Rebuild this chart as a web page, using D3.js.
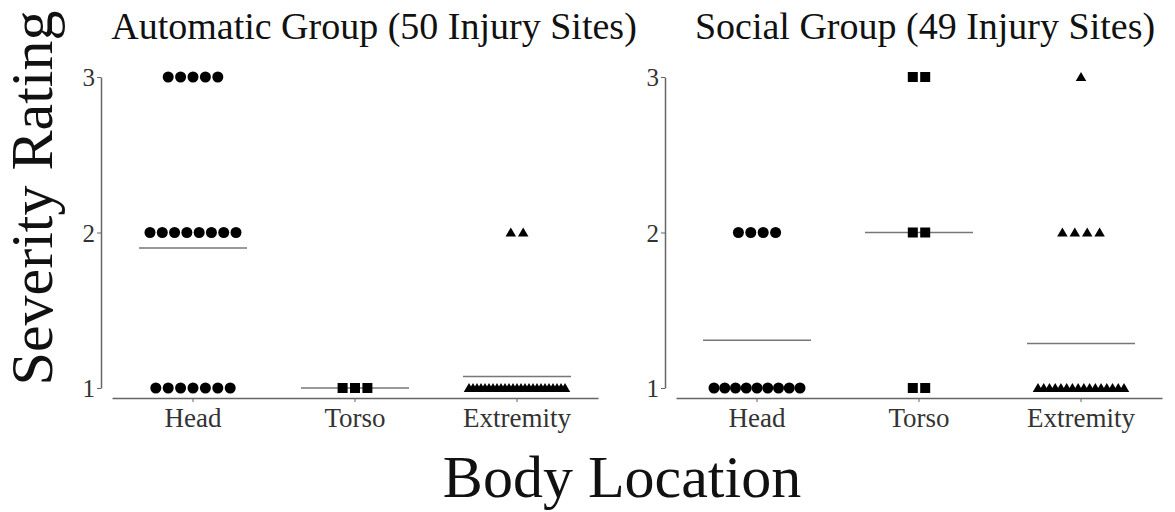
<!DOCTYPE html>
<html>
<head>
<meta charset="utf-8">
<script src="https://cdn.jsdelivr.net/npm/d3@7"></script>
<style>
  body { margin: 0; background: #fff; }
  svg text { font-family: "Liberation Serif", "DejaVu Serif", serif; }
</style>
</head>
<body>
<div id="chart"></div>
<script>
const categories = ["Head", "Torso", "Extremity"];
const ratingTicks = [1, 2, 3];

// number of injury sites at severity 1, 2, 3
const autoHead = [7, 8, 5];
const autoTorso = [3, 0, 0];
const autoExtremity = [25, 2, 0];
const socialHead = [9, 4, 0];
const socialTorso = [2, 2, 2];
const socialExtremity = [16, 4, 1];

const groups = [
    { title: "Automatic Group (50 Injury Sites)", counts: [autoHead, autoTorso, autoExtremity], left: 101, titleX: 374 },
    { title: "Social Group (49 Injury Sites)", counts: [socialHead, socialTorso, socialExtremity], left: 665, titleX: 925 }
];

const shapes = [d3.symbolCircle, d3.symbolSquare, d3.symbolTriangle];
const shapeSize = [95, 100, 48];

const width = 1175, height = 512;
const svg = d3.select("#chart").append("svg")
    .attr("width", width)
    .attr("height", height);

const y = d3.scaleLinear().domain([1, 3]).range([388, 77]);

groups.forEach((g) => {
    const x = d3.scaleBand()
        .domain(categories)
        .range([g.left + 11, g.left + 497])
        .padding(0);

    const panel = svg.append("g");

    // y axis
    const yAxis = panel.append("g")
        .attr("transform", `translate(${g.left},0)`)
        .call(d3.axisLeft(y).tickValues(ratingTicks).tickFormat(d3.format("d")).tickSize(4).tickSizeOuter(0));
    yAxis.select(".domain").attr("stroke", "#666").attr("stroke-width", 1.5);
    yAxis.selectAll(".tick line").attr("stroke", "#666");
    yAxis.selectAll(".tick text")
        .attr("font-size", 25)
        .attr("fill", "#333")
        .attr("x", -6)
        .attr("dy", "0.35em");

    // x axis
    const xAxis = panel.append("g")
        .attr("transform", `translate(0,398)`)
        .call(d3.axisBottom(x).tickSize(4).tickSizeOuter(0));
    xAxis.select(".domain").attr("stroke", "#666").attr("stroke-width", 1.5);
    xAxis.selectAll(".tick line").attr("stroke", "#666");
    xAxis.selectAll(".tick text")
        .attr("font-size", 27)
        .attr("fill", "#333")
        .attr("y", 10);

    // title
    panel.append("text")
        .attr("x", g.titleX)
        .attr("y", 39)
        .attr("text-anchor", "middle")
        .attr("font-size", 38)
        .attr("fill", "#111")
        .text(g.title);

    g.counts.forEach((counts, ci) => {
        const cat = categories[ci];
        const cx = x(cat) + x.bandwidth() / 2;

        // points, spread horizontally for each rating
        const pts = [];
        counts.forEach((n, ri) => {
            const step = n > 1 ? Math.min(12.4, (n > 20 ? 96 : 86) / (n - 1)) : 0;
            for (let i = 0; i < n; i++) {
                pts.push({ rating: ratingTicks[ri], dx: (i - (n - 1) / 2) * step });
            }
        });

        // mean line
        const total = d3.sum(counts);
        const mean = d3.sum(counts, (n, ri) => n * ratingTicks[ri]) / total;
        panel.append("line")
            .attr("x1", cx - 54)
            .attr("x2", cx + 54)
            .attr("y1", y(mean))
            .attr("y2", y(mean))
            .attr("stroke", "#777")
            .attr("stroke-width", 1.5);

        const sym = d3.symbol().type(shapes[ci]).size(shapeSize[ci]);
        panel.selectAll(null)
            .data(pts)
            .join("path")
            .attr("d", sym)
            .attr("transform", d => `translate(${cx + d.dx},${y(d.rating) + (ci === 2 ? 1 : 0)})`)
            .attr("fill", "#000");
    });
});

// shared axis labels
svg.append("text")
    .attr("transform", `translate(52,198) rotate(-90)`)
    .attr("text-anchor", "middle")
    .attr("font-size", 60)
    .attr("fill", "#111")
    .text("Severity Rating");

svg.append("text")
    .attr("x", 622)
    .attr("y", 497)
    .attr("text-anchor", "middle")
    .attr("font-size", 60)
    .attr("fill", "#111")
    .text("Body Location");
</script>
</body>
</html>
